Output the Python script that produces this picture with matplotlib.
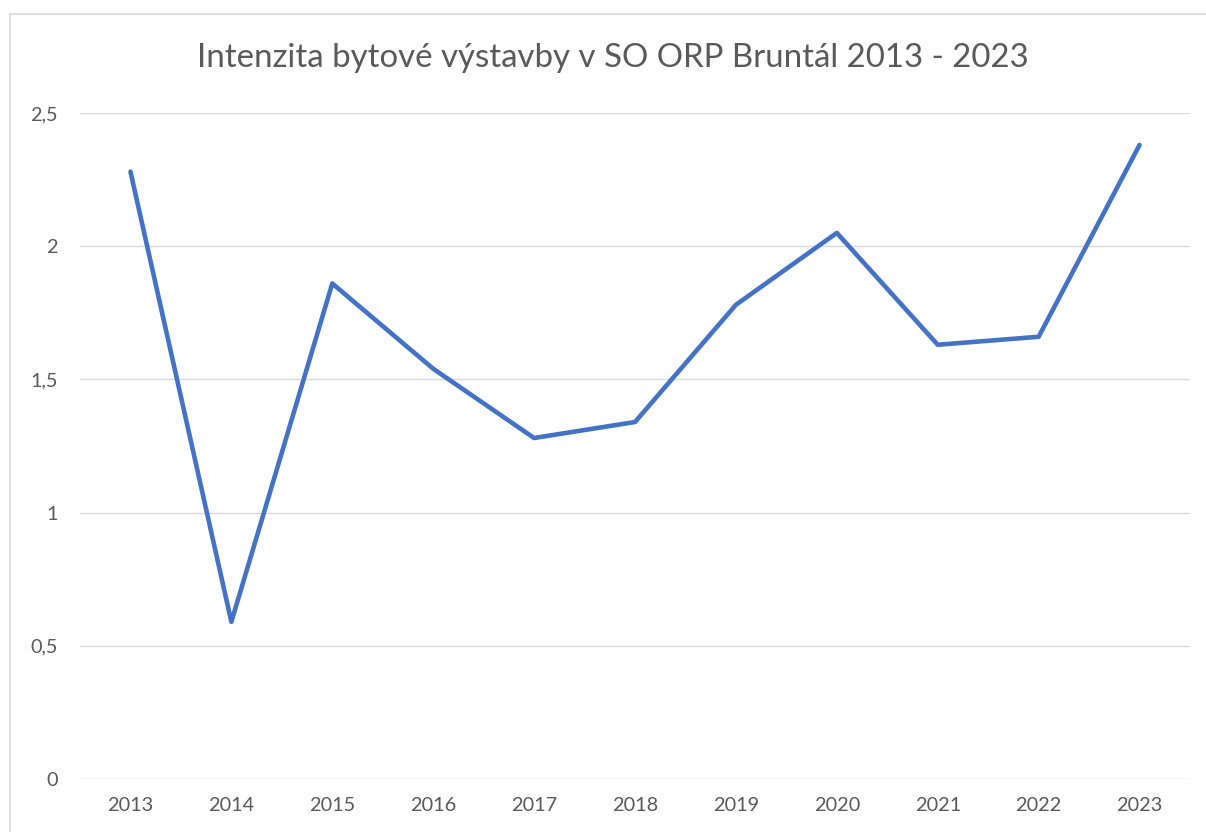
import matplotlib.pyplot as plt
from matplotlib.patches import Rectangle
from matplotlib.ticker import FuncFormatter

years = ['2013', '2014', '2015', '2016', '2017', '2018',
         '2019', '2020', '2021', '2022', '2023']
intensity = [2.28, 0.59, 1.86, 1.54, 1.28, 1.34, 1.78, 2.05, 1.63, 1.66, 2.38]
y_ticks = [0, 0.5, 1, 1.5, 2, 2.5]

text_color = '#595959'
plt.rcParams['font.family'] = ['Lato', 'DejaVu Sans']

fig = plt.figure(figsize=(12.06, 8.32), dpi=100)
W, H = 1206, 832

# chart border (runs off the right and bottom edge)
fig.patches.append(Rectangle((9.5 / W, -0.1), 1.2, 1 - 13.5 / H + 0.1,
                             transform=fig.transFigure, fill=False,
                             edgecolor='#D9D9D9', linewidth=1.2))

ax = fig.add_axes([80 / W, 1 - 779 / H, (1190 - 80) / W, (779 - 113) / H])
x = range(len(years))
ax.plot(x, intensity, color='#4472C4', linewidth=3.3, solid_capstyle='round',
        solid_joinstyle='round', zorder=3)

ax.set_xlim(-0.5, len(years) - 0.5)
ax.set_ylim(0, 2.5)
ax.set_xticks(list(x))
ax.set_xticklabels(years)
ax.set_yticks(y_ticks)
ax.yaxis.set_major_formatter(FuncFormatter(lambda v, p: ('%g' % v).replace('.', ',')))
ax.grid(axis='y', color='#D9D9D9', linewidth=1)
ax.set_axisbelow(True)
for s in ax.spines.values():
    s.set_visible(False)
ax.tick_params(length=0, labelsize=14.3, colors=text_color)
ax.tick_params(axis='y', pad=16)
ax.tick_params(axis='x', pad=13)

fig.text(613 / W, 1 - 58 / H, 'Intenzita bytové výstavby v SO ORP Bruntál 2013 - 2023',
         ha='center', va='center', fontsize=23.8, color=text_color)

fig.savefig('out.png', dpi=100)
